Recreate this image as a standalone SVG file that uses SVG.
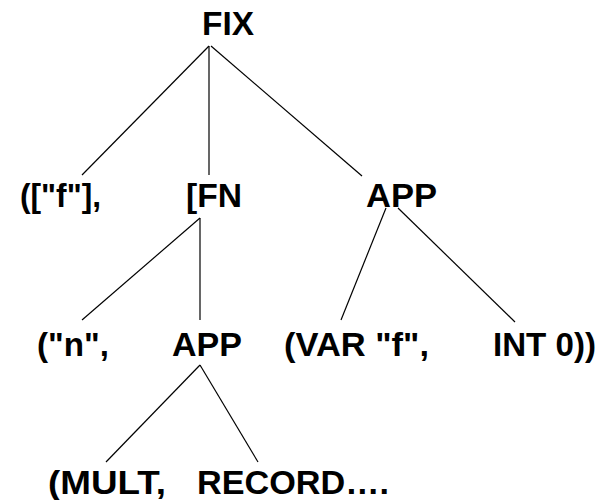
<svg xmlns="http://www.w3.org/2000/svg" width="600" height="500" viewBox="0 0 600 500">
<style>
.t{font-family:"Liberation Sans",Arial,sans-serif;font-weight:bold;font-size:34px;fill:#000}
.c line{stroke:#000;stroke-width:1.2;fill:none}
</style>
<rect width="600" height="500" fill="#fff"/>
<g id="connectors" class="c">
<line x1="209" y1="46" x2="82" y2="175"/>
<line x1="209" y1="46" x2="209" y2="175"/>
<line x1="211" y1="46" x2="362" y2="176"/>
<line x1="200" y1="218" x2="82" y2="320"/>
<line x1="200" y1="218" x2="200" y2="320"/>
<line x1="386" y1="208" x2="341" y2="320"/>
<line x1="398" y1="208" x2="515" y2="322"/>
<line x1="200" y1="365" x2="106" y2="462"/>
<line x1="200" y1="365" x2="258" y2="462"/>
</g>
<g id="n-fix"><text class="t" x="202" y="35" textLength="52" lengthAdjust="spacingAndGlyphs">FIX</text></g>
<g id="n-f"><text class="t" x="20" y="207" textLength="81" lengthAdjust="spacingAndGlyphs">(["f"],</text></g>
<g id="n-fn"><text class="t" x="186" y="207" textLength="56" lengthAdjust="spacingAndGlyphs">[FN</text></g>
<g id="n-app1"><text class="t" x="366" y="207" textLength="71" lengthAdjust="spacingAndGlyphs">APP</text></g>
<g id="n-n"><text class="t" x="37" y="356" textLength="72" lengthAdjust="spacingAndGlyphs">("n",</text></g>
<g id="n-app2"><text class="t" x="172" y="356" textLength="70" lengthAdjust="spacingAndGlyphs">APP</text></g>
<g id="n-var"><text class="t" x="284" y="356" textLength="145" lengthAdjust="spacingAndGlyphs">(VAR "f",</text></g>
<g id="n-int"><text class="t" x="493" y="356" textLength="103" lengthAdjust="spacingAndGlyphs">INT 0))</text></g>
<g id="n-mult"><text class="t" x="48" y="494" textLength="118" lengthAdjust="spacingAndGlyphs">(MULT,</text></g>
<g id="n-record"><text class="t" x="197" y="494" textLength="192" lengthAdjust="spacingAndGlyphs">RECORD….</text></g>
</svg>
